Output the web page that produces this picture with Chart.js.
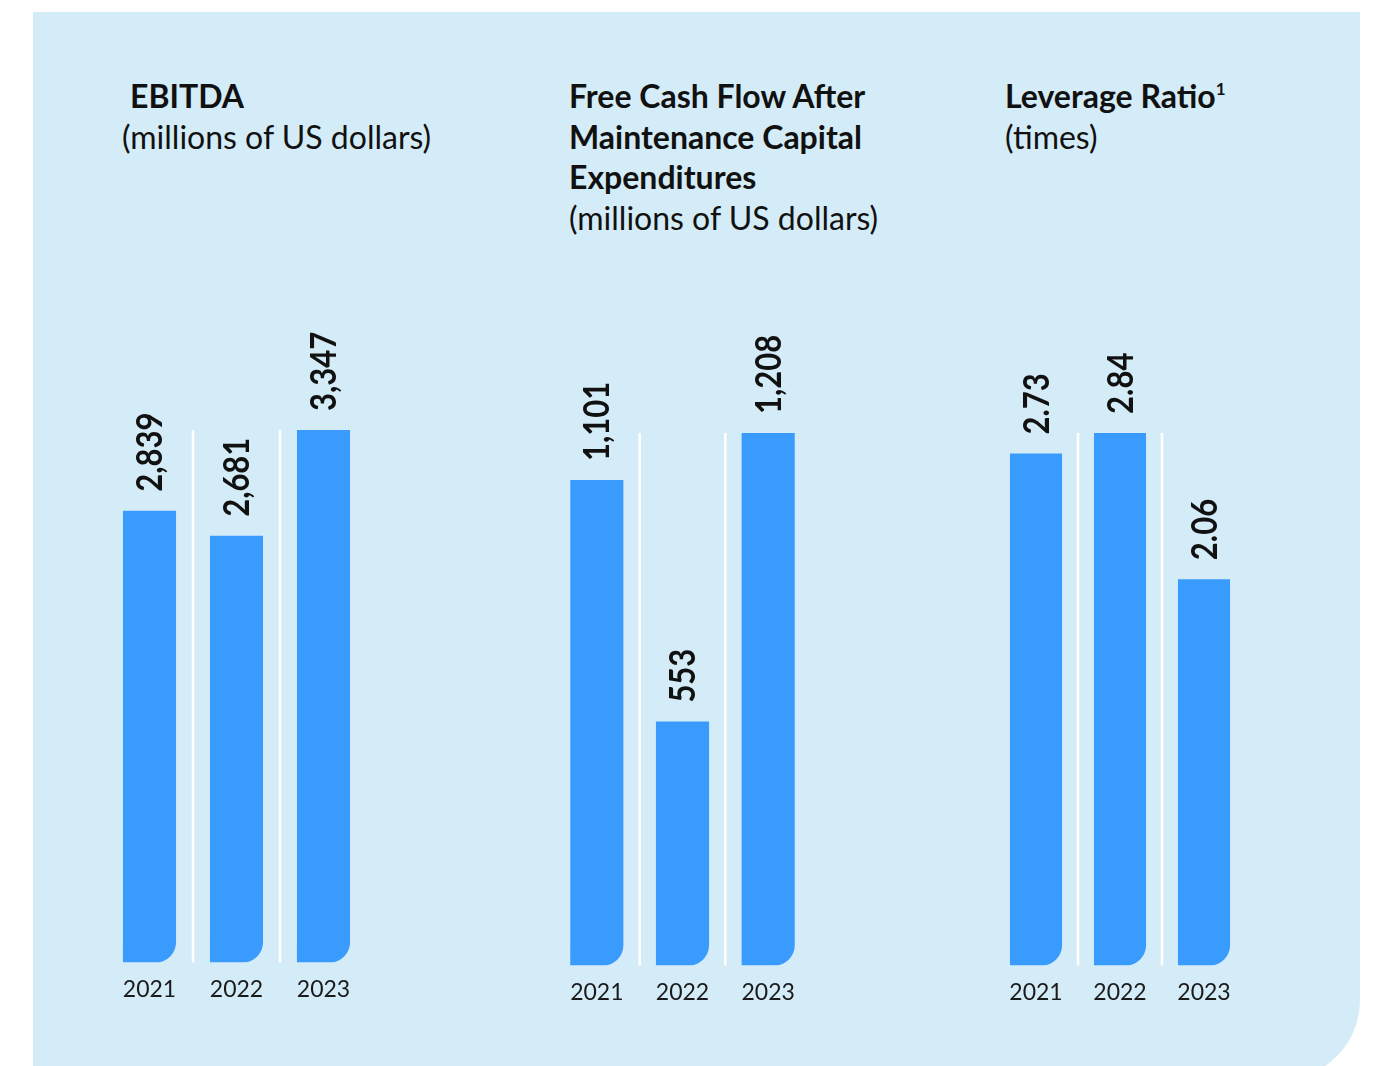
<!DOCTYPE html>
<html>
<head>
<meta charset="utf-8">
<script src="https://cdn.jsdelivr.net/npm/chart.js@4.4.1/dist/chart.umd.min.js"></script>
<style>
  html, body { margin: 0; padding: 0; background: #fff; width: 1377px; height: 1066px; overflow: hidden; }
  #panel {
    position: absolute; left: 33px; top: 12px; width: 1327px; height: 1068px;
    background: #d4ecf7; border-bottom-right-radius: 80px;
  }
  .title {
    position: absolute; top: 76px; font-family: Lato, sans-serif; font-size: 32px;
    line-height: 40.5px; color: #111;
  }
  .title b { font-weight: 700; }
  .title sup { font-size: 17px; vertical-align: 13px; line-height: 0; font-weight: 700; }
  canvas.chart { position: absolute; top: 300px; }
</style>
</head>
<body>
<div id="panel"></div>
<div class="title" style="left:122px"><b style="padding-left:8px">EBITDA</b><br>(millions of US dollars)</div>
<div class="title" style="left:569px"><b>Free Cash Flow After<br>Maintenance Capital<br>Expenditures</b><br>(millions of US dollars)</div>
<div class="title" style="left:1005px"><b>Leverage Ratio<sup>1</sup></b><br>(times)</div>

<canvas class="chart" id="ebitdaChart"></canvas>
<canvas class="chart" id="fcfChart"></canvas>
<canvas class="chart" id="leverageChart"></canvas>

<script>
const years = ["2021", "2022", "2023"];
const ebitdaValues = [2839, 2681, 3347];
const fcfValues = [1101, 553, 1208];
const leverageValues = [2.73, 2.84, 2.06];
const ebitdaLabels = ["2,839", "2,681", "3,347"];
const fcfLabels = ["1,101", "553", "1,208"];
const leverageLabels = ["2.73", "2.84", "2.06"];

const barColor = "#3a9bfe";
const fontFamily = "Lato, sans-serif";

// rotated value labels + white separators between bars
const barDecor = {
  id: "barDecor",
  afterDatasetsDraw(chart, args, opts) {
    const ctx = chart.ctx;
    const meta = chart.getDatasetMeta(0);
    const yScale = chart.scales.y;
    const top = yScale.getPixelForValue(Math.max(...chart.data.datasets[0].data));
    const bottom = yScale.getPixelForValue(0);

    ctx.save();
    ctx.strokeStyle = "#ffffff";
    ctx.lineWidth = 2.5;
    for (let i = 0; i < meta.data.length - 1; i++) {
      const x = (meta.data[i].x + meta.data[i + 1].x) / 2;
      ctx.beginPath();
      ctx.moveTo(x, top);
      ctx.lineTo(x, bottom);
      ctx.stroke();
    }

    ctx.fillStyle = "#111";
    ctx.font = "bold 31px " + fontFamily;
    ctx.textAlign = "left";
    ctx.textBaseline = "middle";
    meta.data.forEach((bar, i) => {
      ctx.save();
      ctx.translate(bar.x, bar.y - 19);
      ctx.rotate(-Math.PI / 2);
      ctx.scale(1, 1.15); // taller glyphs, like the original face
      ctx.fillText(opts.labels[i], 0, 1);
      ctx.restore();
    });
    ctx.restore();
  },
};

function makeChart(id, values, labels, left, width, areaHeight, barPct) {
  const canvas = document.getElementById(id);
  const axisHeight = 53;
  canvas.style.left = left + "px";
  canvas.style.width = width + "px";
  canvas.style.height = areaHeight + axisHeight + "px";
  canvas.width = width;
  canvas.height = areaHeight + axisHeight;

  // tallest bar is 533px high in the reference
  const yMax = Math.max(...values) * areaHeight / 533;

  return new Chart(canvas.getContext("2d"), {
    type: "bar",
    data: {
      labels: years,
      datasets: [
        {
          data: values,
          backgroundColor: barColor,
          borderWidth: 0,
          borderSkipped: false,
          borderRadius: { topLeft: 0, topRight: 0, bottomLeft: 0, bottomRight: 20 },
          barPercentage: barPct,
          categoryPercentage: 1,
        },
      ],
    },
    options: {
      responsive: false,
      animation: false,
      layout: { padding: 0 },
      plugins: {
        legend: { display: false },
        tooltip: { enabled: false },
        barDecor: { labels },
      },
      scales: {
        y: { display: false, min: 0, max: yMax },
        x: {
          grid: { display: false, drawTicks: false },
          border: { display: false },
          ticks: {
            color: "#1a1a1a",
            padding: 13,
            font: { family: fontFamily, size: 23 },
          },
        },
      },
    },
    plugins: [barDecor],
  });
}

makeChart("ebitdaChart", ebitdaValues, ebitdaLabels, 106, 261, 663, 0.61);
makeChart("fcfChart", fcfValues, fcfLabels, 554, 257, 666, 0.62);
makeChart("leverageChart", leverageValues, leverageLabels, 994, 252, 666, 0.62);
</script>
</body>
</html>
